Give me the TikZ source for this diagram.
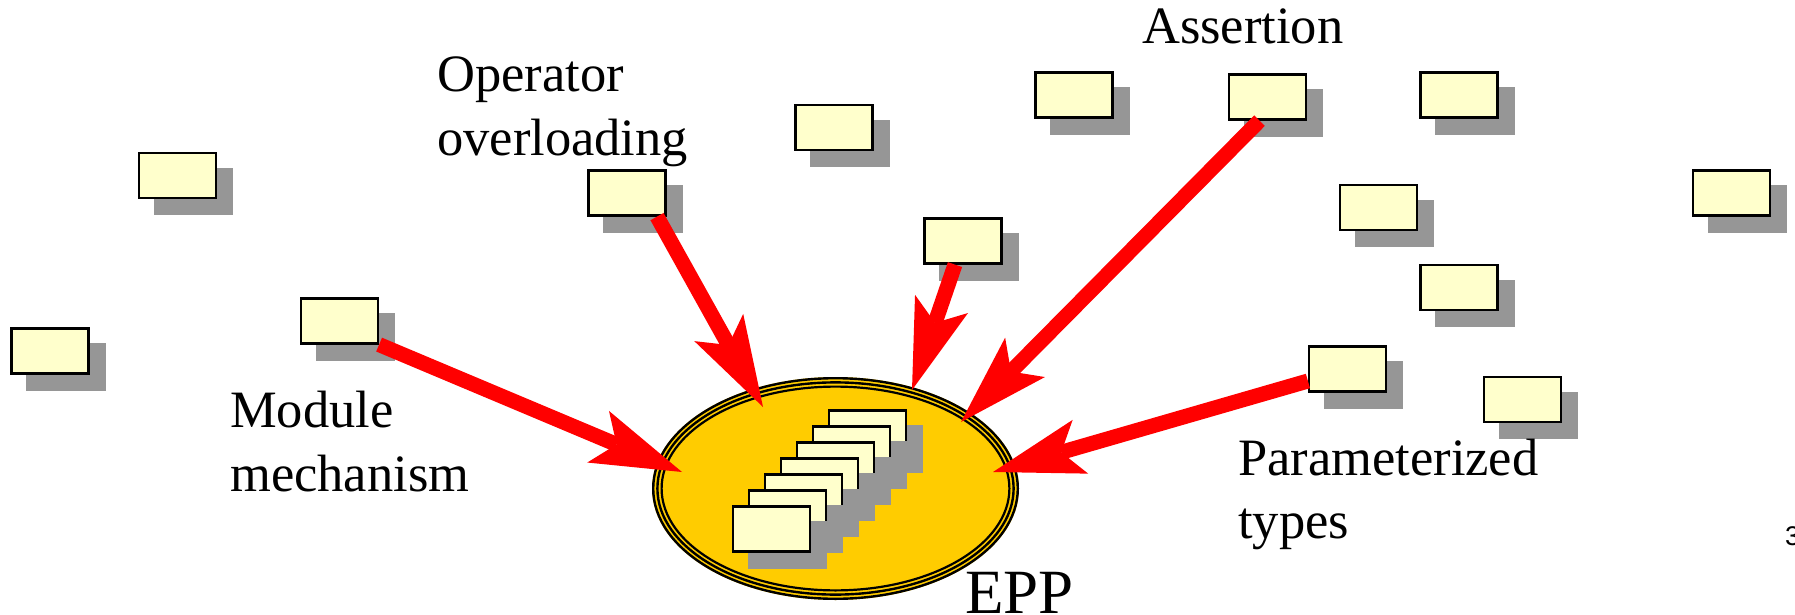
\documentclass[tikz,border=0pt]{standalone}
\usepackage{fontspec}
\setmainfont{Liberation Serif}
\newfontfamily\slidesans{Liberation Sans}
\usetikzlibrary{arrows.meta,shadows,calc}

\definecolor{cardfill}{HTML}{FFFFCC}
\definecolor{shadowgrey}{RGB}{150,150,150}
\definecolor{eppyellow}{HTML}{FFCC00}
\definecolor{arrowred}{HTML}{FF0000}

\begin{document}
\begin{tikzpicture}[x=1pt,y=-1pt,
  card/.style={rectangle, draw=black, line width=2.2pt, fill=cardfill,
    minimum width=77pt, minimum height=45pt, inner sep=0pt,
    general shadow={fill=shadowgrey, draw=shadowgrey, shadow xshift=16pt, shadow yshift=-16pt}},
  lbl/.style={anchor=base west, inner sep=0pt, font=\fontsize{52.5}{63}\selectfont},
  feed/.style={draw=arrowred, line width=15pt,
    -{Stealth[length=91pt, width=56pt, inset=20pt, line width=0pt]}},
]
\useasboundingbox (0,0) rectangle (1795,615);

% EPP ellipse with its triple rim
\coordinate (eppc) at (835.5,488.5);
\fill[eppyellow] (eppc) ellipse [x radius=183.5pt, y radius=111.5pt];
\draw[line width=2.4pt] (eppc) ellipse [x radius=182.3pt, y radius=110.3pt];
\draw[line width=2.4pt] (eppc) ellipse [x radius=178.1pt, y radius=106.1pt];
\draw[line width=2.2pt] (eppc) ellipse [x radius=173.9pt, y radius=101.9pt];

% stack of cards inside EPP, back to front
\foreach \k in {6,5,...,0}
  \node[card] (c\k) at ({771.5+16*\k},{529-16*\k}) {};

% scattered cards
\node[card] (b1)     at (177.5,175.5) {};
\node[card] (b2)     at (50,351) {};
\node[card] (module) at (339.5,321) {};
\node[card] (op)     at (627,193) {};
\node[card] (b5)     at (834,127.5) {};
\node[card] (near)   at (963,241) {};
\node[card] (b7)     at (1074,95) {};
\node[card] (assert) at (1267.5,97) {};
\node[card] (b9)     at (1459,95) {};
\node[card] (b10)    at (1731.5,193) {};
\node[card] (b11)    at (1378.5,207.5) {};
\node[card] (b12)    at (1459,287.5) {};
\node[card] (param)  at (1347.5,369) {};
\node[card] (b14)    at (1522.5,399.5) {};

% feature arrows into EPP
\coordinate (s1) at (module.south east);
\coordinate (t1) at (682,472);
\coordinate (s2) at ($(op.south)+(30,0)$);
\coordinate (t2) at (763,407);
\coordinate (s3) at ($(near.south)+(-8,0)$);
\coordinate (t3) at (912,390);
\coordinate (s4) at ($(assert.south)+(-8,0)$);
\coordinate (t4) at (961,422);
\coordinate (s5) at ($(param.west)+(0,12)$);
\coordinate (t5) at (993,472);
\draw[feed] (s1) -- (t1);
\draw[feed] (s2) -- (t2);
\draw[feed] (s3) -- (t3);
\draw[feed] (s4) -- (t4);
\draw[feed] (s5) -- (t5);

% labels
\node[lbl] (opA)   at (437,92)   {Operator};
\node[lbl] (opB)   at (437,155)  {overloading};
\node[lbl] (asA)   at (1142,44)  {Assertion};
\node[lbl] (modA)  at (230,427)  {Module};
\node[lbl] (modB)  at (230,491)  {mechanism};
\node[lbl] (parA)  at (1238,475) {Parameterized};
\node[lbl] (parB)  at (1238,538) {types};
\node[anchor=base west, inner sep=0pt, font=\fontsize{63}{75}\selectfont] (epp) at (965,613) {EPP};
\node[anchor=base west, inner sep=0pt, font=\slidesans\fontsize{27}{32}\selectfont] (pagenum) at (1785,545) {3};
\end{tikzpicture}
\end{document}
